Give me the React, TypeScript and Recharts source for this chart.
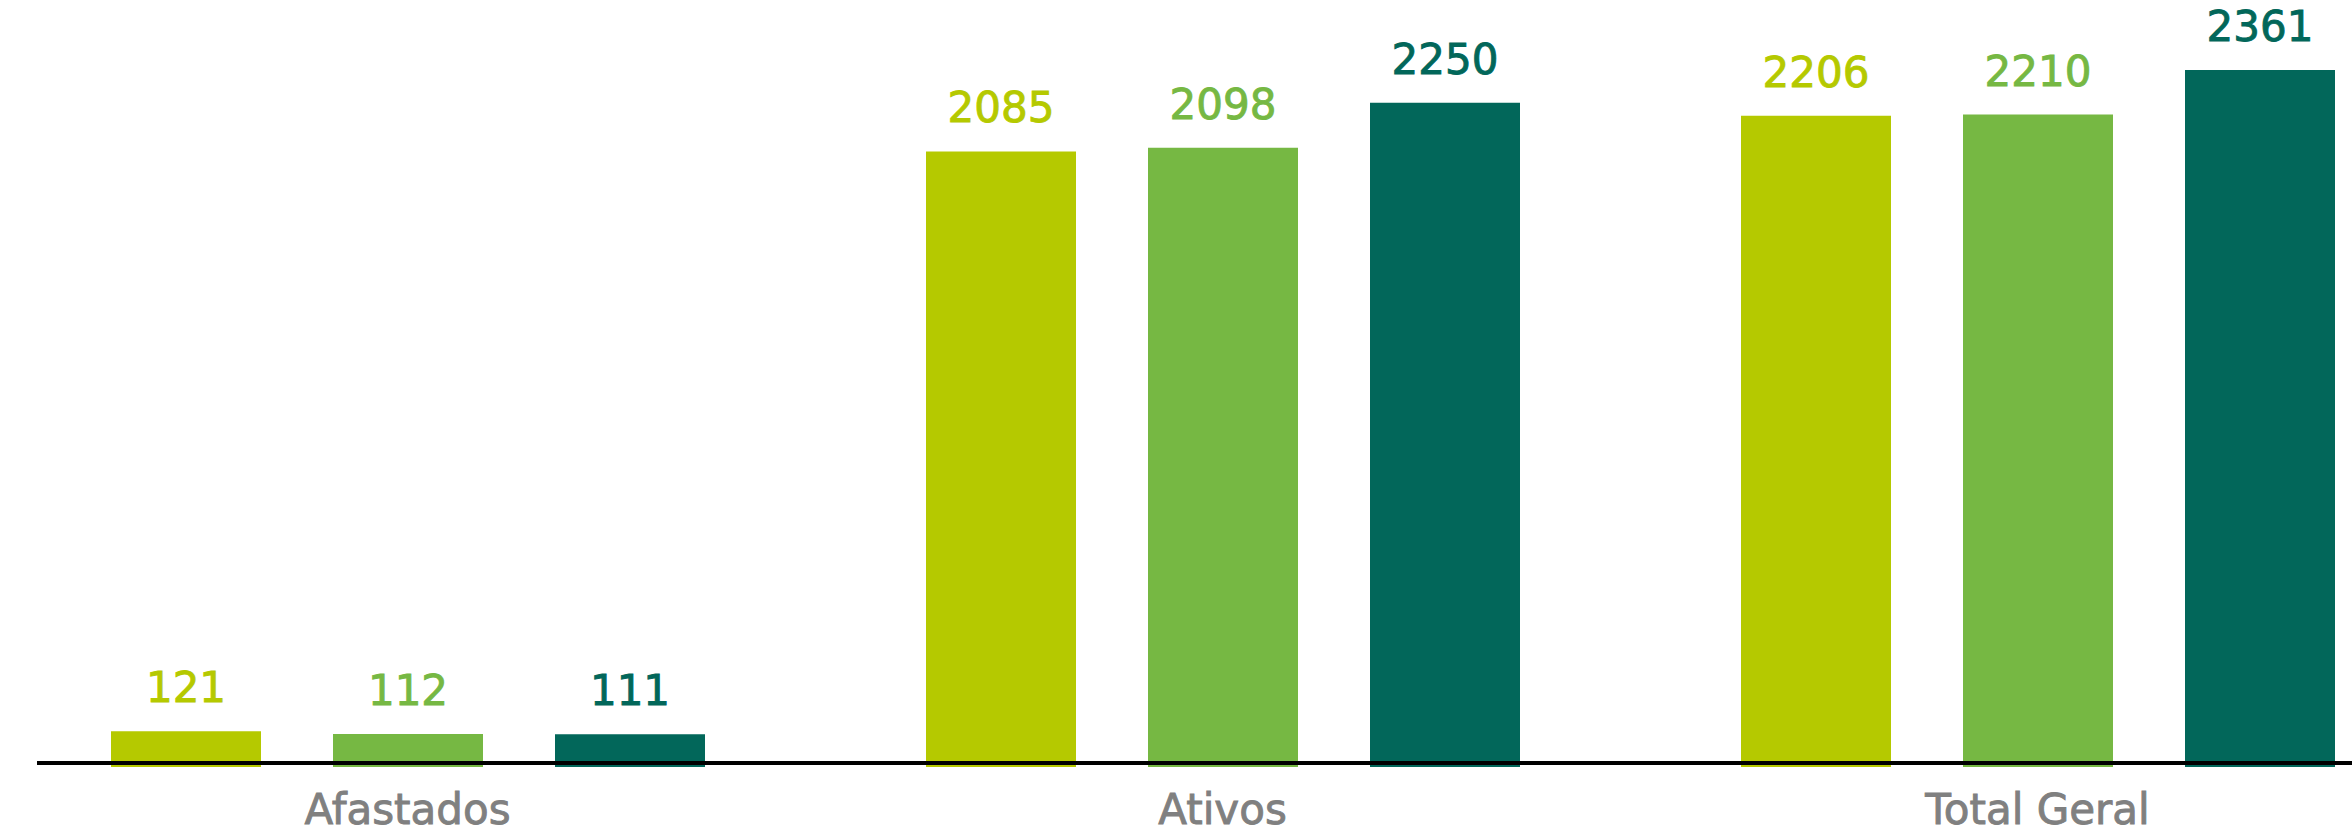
import { Bar, BarChart, LabelList, ReferenceLine, XAxis, YAxis } from "recharts";

const categories = ["Afastados", "Ativos", "Total Geral"];
const serie1 = [121, 2085, 2206];
const serie2 = [112, 2098, 2210];
const serie3 = [111, 2250, 2361];

const colors = ["#B5C900", "#76B843", "#02675A"];

const data = categories.map((name, i) => ({
  name,
  s1: serie1[i],
  s2: serie2[i],
  s3: serie3[i],
}));

// medium-ish weight: DejaVu regular with a thin stroke of the same colour
const labelFont = { fontFamily: "DejaVu Sans", fontSize: 42, strokeWidth: 0.9 };

// axis rule starts a little in from the left edge, like the original
const AxisRule = (props: any) => (
  <line x1={props.x1 + 37} y1={props.y1 - 4} x2={props.x2} y2={props.y2 - 4} stroke="#000" strokeWidth={4} />
);

export default function App() {
  return (
    <div style={{ position: "absolute", left: 0, top: 0, width: 2352, height: 833, overflow: "hidden", background: "#fff" }}>
      <BarChart
        width={2445}
        height={833}
        data={data}
        margin={{ top: 70, right: 0, left: 0, bottom: 0 }}
        barSize={150}
        barGap={72}
      >
        <XAxis
          dataKey="name"
          axisLine={false}
          tickLine={false}
          tickSize={0}
          tickMargin={27}
          height={66}
          interval={0}
          tick={{ fill: "#808080", stroke: "#808080", strokeWidth: 0.9, fontSize: 42, fontFamily: "DejaVu Sans" }}
        />
        <YAxis hide domain={[0, "dataMax"]} />
        {["s1", "s2", "s3"].map((k, i) => (
          <Bar key={k} dataKey={k} fill={colors[i]} isAnimationActive={false}>
            <LabelList dataKey={k} position="top" offset={29} fill={colors[i]} stroke={colors[i]} style={labelFont} />
          </Bar>
        ))}
        <ReferenceLine y={0} shape={AxisRule} />
      </BarChart>
    </div>
  );
}
